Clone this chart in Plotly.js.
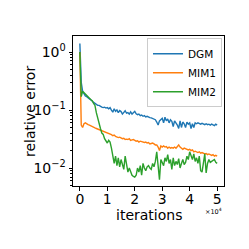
<!DOCTYPE html>
<html>
<head>
<meta charset="utf-8">
<script src="https://cdn.plot.ly/plotly-3.0.1.min.js"></script>
<style>html,body{margin:0;padding:0;background:#fff;}#chart{width:249px;height:249px;}</style>
</head>
<body>
<div id="chart"></div>
<script>
// iterations: 0, 500, 1000, ... 50000
const iterations = [];
for (let i = 0; i <= 100; i++) iterations.push(i * 500);

const seriesNames = ["DGM", "MIM1", "MIM2"];

const dgm = [1.40,0.30,0.21,0.19,0.175,0.17,0.16,0.155,0.15,0.14,
0.135,0.13,0.125,0.12,0.12,0.115,0.112,0.11,0.112,0.108,
0.11,0.105,0.11,0.10,0.092,0.105,0.095,0.10,0.09,0.098,
0.094,0.085,0.092,0.097,0.088,0.09,0.085,0.093,0.085,0.09,
0.095,0.086,0.083,0.085,0.08,0.082,0.078,0.08,0.076,0.078,
0.075,0.074,0.073,0.072,0.07,0.068,0.062,0.055,0.065,0.068,
0.072,0.06,0.075,0.065,0.07,0.06,0.068,0.064,0.052,0.065,
0.06,0.055,0.048,0.065,0.05,0.062,0.058,0.05,0.062,0.057,
0.06,0.048,0.058,0.05,0.06,0.058,0.06,0.058,0.057,0.059,
0.057,0.056,0.058,0.056,0.057,0.055,0.057,0.056,0.054,0.057,
0.055];

const mim1 = [1.0,0.055,0.05,0.058,0.06,0.057,0.056,0.055,0.053,0.052,
0.051,0.049,0.048,0.047,0.046,0.045,0.044,0.043,0.042,0.041,
0.04,0.039,0.038,0.0375,0.036,0.037,0.035,0.034,0.0335,0.034,
0.033,0.032,0.0325,0.031,0.0315,0.031,0.032,0.03,0.0305,0.031,
0.03,0.029,0.0295,0.028,0.029,0.0285,0.028,0.0275,0.028,0.027,
0.0275,0.026,0.0265,0.027,0.026,0.025,0.025,0.023,0.02,0.024,
0.023,0.024,0.023,0.0235,0.022,0.023,0.022,0.0225,0.022,0.023,
0.022,0.0235,0.025,0.023,0.022,0.021,0.022,0.0215,0.021,0.0205,
0.021,0.020,0.0205,0.019,0.0195,0.019,0.0185,0.019,0.018,0.0185,
0.018,0.0175,0.0178,0.017,0.0175,0.017,0.0165,0.017,0.016,0.0165,
0.016];

const mim2 = [1.0,0.17,0.21,0.2,0.19,0.18,0.17,0.16,0.15,0.145,
0.13,0.12,0.09,0.07,0.055,0.048,0.04,0.038,0.032,0.03,
0.027,0.03,0.028,0.022,0.016,0.012,0.016,0.011,0.015,0.0105,
0.014,0.012,0.0095,0.016,0.012,0.0085,0.01,0.0082,0.0075,0.0072,
0.007,0.0075,0.01,0.0085,0.011,0.0075,0.012,0.01,0.009,0.0105,
0.011,0.01,0.0095,0.012,0.0105,0.013,0.019,0.011,0.0063,0.014,
0.012,0.011,0.015,0.013,0.017,0.012,0.014,0.0095,0.015,0.011,
0.013,0.0115,0.0145,0.01,0.012,0.014,0.0115,0.0125,0.016,0.014,
0.019,0.016,0.014,0.0175,0.013,0.015,0.012,0.016,0.009,0.0085,
0.013,0.0175,0.0082,0.012,0.014,0.0125,0.013,0.0135,0.014,0.0125,
0.012];

const xTickVals = [0, 10000, 20000, 30000, 40000, 50000];
const xTickText = ["0", "1", "2", "3", "4", "5"];
const yTickVals = [1, 0.1, 0.01];
const yTickText = ["10<sup>0</sup>", "10<sup>−1</sup>", "10<sup>−2</sup>"];
const yTitle = "relative error";
const xTitle = "iterations";
const offsetText = "×10<sup>4</sup>";

const colors = ["#1f77b4", "#ff7f0e", "#2ca02c"];
const allY = [dgm, mim1, mim2];

const traces = allY.map((y, i) => ({
  x: iterations, y: y, type: "scatter", mode: "lines", name: seriesNames[i],
  line: {color: colors[i], width: 1.4}
}));

const font = "DejaVu Sans, sans-serif";
const layout = {
  width: 249, height: 249,
  margin: {l: 73, r: 25, t: 36, b: 63},
  paper_bgcolor: "#fff", plot_bgcolor: "#fff",
  font: {family: font, size: 14, color: "#000"},
  showlegend: true,
  legend: {
    x: 0.49, y: 0.985, xanchor: "left", yanchor: "top",
    bgcolor: "rgba(255,255,255,0.8)", bordercolor: "#cccccc", borderwidth: 1,
    font: {family: font, size: 10.5, color: "#000"},
    itemwidth: 30, tracegroupgap: 0
  },
  xaxis: {
    range: [-2500, 52500], showgrid: false, zeroline: false,
    showline: true, mirror: true, linecolor: "#000", linewidth: 1,
    ticks: "outside", ticklen: 3.5, tickcolor: "#000", ticklabelstandoff: -3,
    tickmode: "array", tickvals: xTickVals, ticktext: xTickText,
    tickfont: {size: 14}
  },
  yaxis: {
    type: "log", range: [-2.31, 0.276], showgrid: false, zeroline: false,
    showline: true, mirror: true, linecolor: "#000", linewidth: 1,
    ticks: "outside", ticklen: 3.5, tickcolor: "#000",
    tickmode: "array", tickvals: yTickVals, ticktext: yTickText,
    tickfont: {size: 14},
    minor: {ticks: "outside", ticklen: 2, tickcolor: "#000", dtick: "D1", showgrid: false}
  },
  annotations: [
    {xref: "paper", yref: "paper", x: -0.285, y: 0.5, xanchor: "center", yanchor: "middle",
     textangle: -90, text: yTitle, showarrow: false, font: {size: 14, color: "#000"}},
    {xref: "paper", yref: "paper", x: 0.5, y: -0.19, xanchor: "center", yanchor: "middle",
     text: xTitle, showarrow: false, font: {size: 14, color: "#000"}},
    {xref: "paper", yref: "paper", x: 1, y: -0.17, xanchor: "right", yanchor: "middle",
     text: offsetText, showarrow: false, font: {size: 6.5, color: "#000"}}
  ]
};

Plotly.newPlot("chart", traces, layout, {staticPlot: true, displayModeBar: false});
</script>
</body>
</html>
